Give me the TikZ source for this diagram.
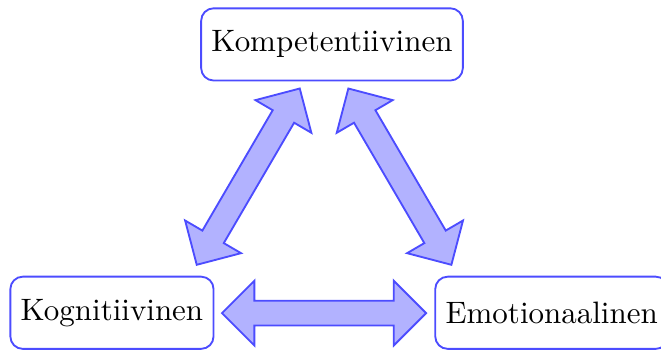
\documentclass[tikz,border=0pt]{standalone}
\usetikzlibrary{shapes.arrows}
\begin{document}
\begin{tikzpicture}[scale=0.2]
\tikzstyle{level}=[draw=blue!70, semithick, rounded corners, minimum height=23.3pt, inner sep=3.33pt]
\tikzstyle{link}=[draw=blue!70, fill=blue!30, semithick, double arrow, minimum height=65.9pt, inner sep=3.7pt, double arrow head extend=6.45pt]
\useasboundingbox (0,0) rectangle (37.49,-19.85);
% the three levels
\node [level] (komp) at (18.83,-2.52) {Kompetentiivinen};
\node [level] (kog) at (6.35,-17.74) {Kognitiivinen};
\node [level] (emo) at (31.29,-17.74) {Emotionaalinen};
% links between them
\node [link, rotate=59.7] (kogkomp) at (14.08,-10.02) {};
\node [link, rotate=-59.7] (kompemo) at (22.68,-10.02) {};
\node [link] (kogemo) at (18.38,-17.76) {};
\end{tikzpicture}
\end{document}
